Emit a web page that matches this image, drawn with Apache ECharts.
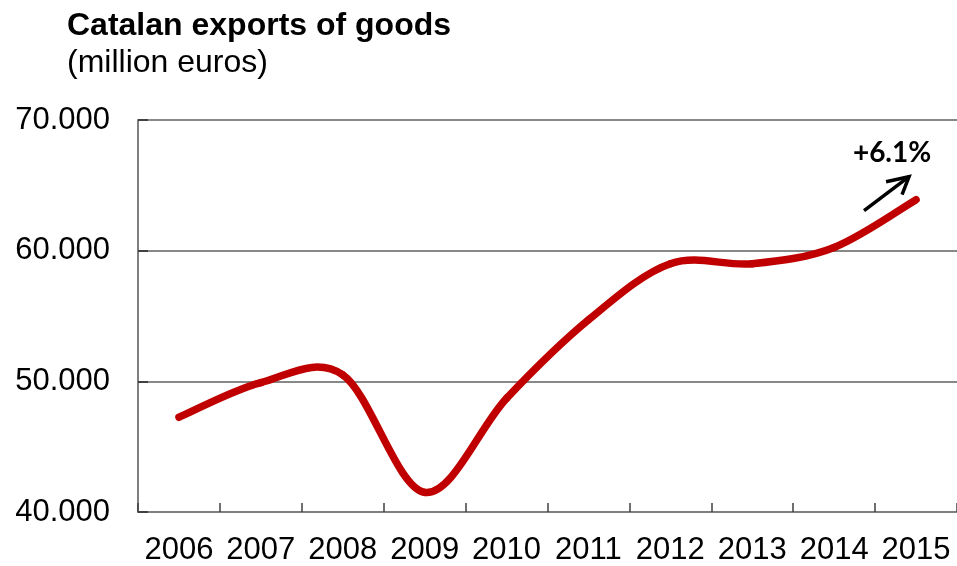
<!DOCTYPE html>
<html>
<head>
<meta charset="utf-8">
<script src="https://cdn.jsdelivr.net/npm/echarts@6/dist/echarts.min.js"></script>
<style>
  html, body { margin: 0; padding: 0; background: #fff; }
  #chart { width: 957px; height: 566px; }
</style>
</head>
<body>
<div id="chart"></div>
<script>
// Catalan exports of goods, million euros
const years = ['2006', '2007', '2008', '2009', '2010', '2011', '2012', '2013', '2014', '2015'];
const exportsMillion = [47250, 49900, 50500, 41500, 48700, 54700, 59000, 59000, 60250, 63900];
const growthLabel = '+6.1%';

const fmtThousands = v => String(v).replace(/\B(?=(\d{3})+(?!\d))/g, '.');

const LINE_COLOR = '#c00000';
const LINE_WIDTH = 7.5;

// Draws the segment from point i to point i+1 as a Catmull-Rom style
// cubic Bezier, so the curve passes through every yearly value.
function renderSmoothSegment(params, api) {
  const i = params.dataIndex;
  const n = exportsMillion.length;
  if (i >= n - 1) return null;
  const pt = j => {
    const k = Math.max(0, Math.min(n - 1, j));
    return api.coord([k, exportsMillion[k]]);
  };
  const p0 = pt(i - 1), p1 = pt(i), p2 = pt(i + 1), p3 = pt(i + 2);
  return {
    type: 'bezierCurve',
    shape: {
      x1: p1[0], y1: p1[1],
      x2: p2[0], y2: p2[1],
      cpx1: p1[0] + (p2[0] - p0[0]) / 6,
      cpy1: p1[1] + (p2[1] - p0[1]) / 6,
      cpx2: p2[0] - (p3[0] - p1[0]) / 6,
      cpy2: p2[1] - (p3[1] - p1[1]) / 6
    },
    style: { stroke: LINE_COLOR, lineWidth: LINE_WIDTH, fill: null, lineCap: 'round', lineJoin: 'round' }
  };
}

const chart = echarts.init(document.getElementById('chart'), null, { renderer: 'canvas' });

const option = {
  animation: false,
  backgroundColor: '#ffffff',
  title: {
    text: 'Catalan exports of goods',
    subtext: '(million euros)',
    left: 62,
    top: 5,
    itemGap: 5,
    textStyle: { fontFamily: 'Liberation Sans', fontWeight: 'bold', fontSize: 32, color: '#000' },
    subtextStyle: { fontFamily: 'Liberation Sans', fontSize: 32, color: '#000' }
  },
  grid: { left: 138, right: 0, top: 120, bottom: 53, containLabel: false },
  xAxis: {
    type: 'category',
    data: years,
    boundaryGap: true,
    axisLine: { show: true, lineStyle: { color: '#7f7f7f', width: 2 } },
    axisTick: { show: true, inside: true, length: 9, interval: 0, lineStyle: { color: '#404040', width: 1.5 } },
    axisLabel: { margin: 23, fontFamily: 'Liberation Sans', fontSize: 31, color: '#000', interval: 0 },
    splitLine: { show: false }
  },
  yAxis: {
    type: 'value',
    min: 40000,
    max: 70000,
    interval: 10000,
    axisLine: { show: true, lineStyle: { color: '#7f7f7f', width: 2 } },
    axisTick: { show: true, inside: true, length: 10, lineStyle: { color: '#404040', width: 2 } },
    axisLabel: { margin: 28, fontFamily: 'Liberation Sans', fontSize: 31, color: '#000', formatter: fmtThousands },
    splitLine: { show: true, lineStyle: { color: '#888888', width: 2 } }
  },
  series: [{
    type: 'custom',
    data: years.map((y, i) => [i, exportsMillion[i]]),
    encode: { x: 0, y: 1 },
    renderItem: renderSmoothSegment,
    clip: false,
    z: 5
  }]
};

chart.setOption(option);

// Growth annotation anchored to the last data point
const lastIdx = exportsMillion.length - 1;
const p = chart.convertToPixel({ gridIndex: 0 }, [lastIdx, exportsMillion[lastIdx]]);
const ax = p[0], ay = p[1];
const x0 = ax - 52, y0 = ay + 11;
const x1 = ax - 7, y1 = ay - 23;
chart.setOption({
  graphic: [
    {
      type: 'line',
      shape: { x1: x0, y1: y0, x2: x1, y2: y1 },
      style: { stroke: '#000', lineWidth: 3.5 },
      z: 10
    },
    {
      type: 'polyline',
      shape: { points: [[x1 - 23, y1 + 5], [x1, y1], [x1 - 7, y1 + 18]] },
      style: { stroke: '#000', lineWidth: 3.5, fill: null, lineJoin: 'miter' },
      z: 10
    },
    {
      type: 'text',
      x: ax - 24,
      y: ay - 47,
      style: {
        text: growthLabel,
        font: 'bold 28px Lato',
        fill: '#000',
        align: 'center',
        verticalAlign: 'middle'
      },
      z: 10
    }
  ]
});
</script>
</body>
</html>
